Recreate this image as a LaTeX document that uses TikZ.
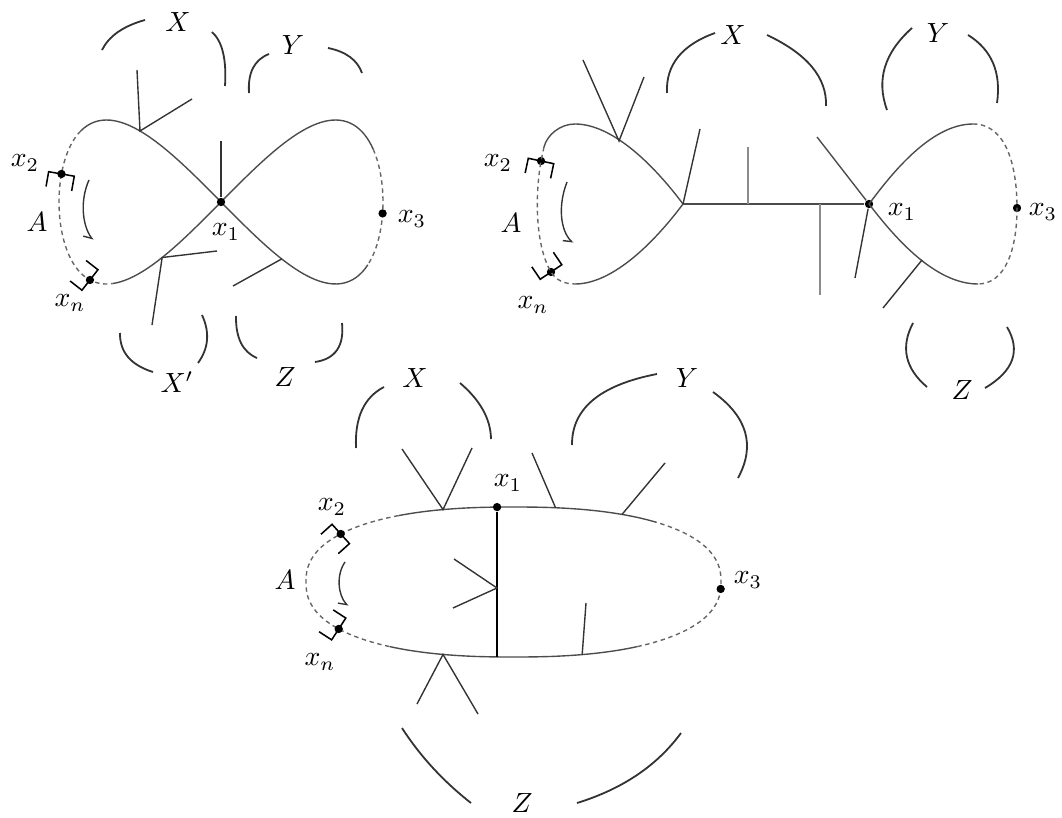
\documentclass[tikz,border=0pt]{standalone}
\usepackage{amsmath}
\usepackage{tikz}
\usetikzlibrary{arrows.meta, calc}

% bracket at an end of the interval A
\newcommand{\cutmark}[2]{%
  \draw[cut line, shift={#1}, rotate=#2] (-13,15) -- (-13,0) -- (13,0) -- (13,15);}
% parenthesis arc round a label: start, bend point, end
\newcommand{\bracearc}[3]{%
  \draw[brace arc] #1 .. controls ($#1!0.667!#2$) and ($#3!0.667!#2$) .. #3;}

\begin{document}
\begin{tikzpicture}[x=0.36pt, y=-0.36pt,
    loop line/.style={black!70, line width=0.5pt},
    loop dash/.style={black!60, line width=0.5pt, dash pattern=on 1.6pt off 1.3pt},
    twig/.style={black!80, line width=0.5pt},
    twig light/.style={black!45, line width=0.65pt},
    brace arc/.style={black!80, line width=0.65pt},
    cut line/.style={black, line width=0.55pt},
    sweep arrow/.style={black!80, line width=0.5pt, -{Straight Barb[length=2.5pt,width=4pt,right]}},
    vtx/.style={circle, fill=black, inner sep=0pt, minimum size=3pt},
    declare function={gx(\t)=221+162*cos(\t); gy(\t)=202+82*sin(2*\t);
      ex(\t)=513.5+207.5*sign(cos(\t))*(abs(cos(\t))+0.00001)^0.85;
      ey(\t)=582-75*sign(sin(\t))*(abs(sin(\t))+0.00001)^0.85;}]
  \useasboundingbox (0,0) rectangle (1062,817);

  % ---- top left: figure eight
  \draw[loop line, domain=25:150, samples=60, variable=\t] plot ({gx(\t)},{gy(\t)});
  \draw[loop dash, domain=150:228, samples=40, variable=\t] plot ({gx(\t)},{gy(\t)});
  \draw[loop line, domain=228:340, samples=60, variable=\t] plot ({gx(\t)},{gy(\t)});
  \draw[loop dash, domain=340:385, samples=30, variable=\t] plot ({gx(\t)},{gy(\t)});
  \node[vtx] (x1a) at (221,202) {};
  \node[vtx] (x2a) at ({gx(170)},{gy(170)}) {};
  \node[vtx] (xna) at ({gx(216)},{gy(216)}) {};
  \node[vtx] (x3a) at ({gx(4)},{gy(4)}) {};
  \cutmark{(x2a)}{-10}
  \cutmark{(xna)}{232}
  \draw[sweep arrow] (89,180) .. controls (80,200) and (82,225) .. (93,240);
  \coordinate (va) at ({gx(120)},{gy(120)});
  \coordinate (ya) at ({gx(248.7)},{gy(248.7)});
  \coordinate (za) at ({gx(68)},{gy(68)});
  \draw[twig] (137,70) -- (va) -- (192,99);
  \draw[twig] (x1a) -- (221,141);
  \draw[twig] (217,251) -- (ya) -- (152,325);
  \draw[twig] (za) -- (233,286);
  \bracearc{(102,50)}{(112.5,29)}{(145,20)}
  \bracearc{(212,32)}{(227.5,46)}{(225,86)}
  \bracearc{(249,93)}{(247,62.5)}{(269,54)}
  \bracearc{(328,48)}{(355,53.5)}{(362,73)}
  \bracearc{(120,333)}{(119.5,361.5)}{(153,372)}
  \bracearc{(202,315)}{(214,341)}{(198,363)}
  \bracearc{(236,316)}{(235.5,349)}{(257,358)}
  \bracearc{(342,323)}{(345.5,357.5)}{(315,362)}
  \node (lXa) at (178,22) {$X$};
  \node (lYa) at (293,45) {$Y$};
  \node (lXpa) at (177,382) {$X'$};
  \node (lZa) at (285,377) {$Z$};
  \node (lx2a) at (25,163) {$x_2$};
  \node (lAa) at (37,222) {$A$};
  \node (lxna) at (70,303) {$x_n$};
  \node (lx1a) at (226,232) {$x_1$};
  \node (lx3a) at (412,219) {$x_3$};

  % ---- top right: two loops joined by an edge
  \node[vtx] (x1b) at (869,204) {};
  \node[vtx] (x2b) at (541,161) {};
  \node[vtx] (xnb) at (551,272) {};
  \node[vtx] (x3b) at (1017,208) {};
  \coordinate (vb) at (683,204);
  \draw[loop line] (vb) .. controls (650,160) and (610,124) .. (575,124)
    .. controls (560,124) and (547,135) .. (544,147);
  \draw[loop dash] (544,147) .. controls (543,152) and (542,156) .. (x2b.center)
    .. controls (535,195) and (535,245) .. (xnb.center)
    .. controls (556,280) and (564,284) .. (575,284);
  \draw[loop line] (575,284) .. controls (610,284) and (650,248) .. (vb);
  \draw[loop line] (vb) -- (x1b);
  \draw[loop line] (x1b.center) .. controls (890,176) and (930,124) .. (973,124);
  \draw[loop dash] (973,124) .. controls (1008,124) and (1017,170) .. (x3b.center)
    .. controls (1017,250) and (1005,284) .. (978,284);
  \draw[loop line] (978,284) .. controls (935,284) and (895,238) .. (x1b.center);
  \cutmark{(x2b)}{-12}
  \cutmark{(xnb)}{214}
  \draw[sweep arrow] (567,182) .. controls (558,205) and (560,230) .. (573,243);
  \coordinate (ub) at (619,141);
  \draw[twig] (583,60) -- (ub) -- (644,77);
  \draw[twig] (vb) -- (700,129);
  \draw[twig light] (748,204) -- (748,147);
  \draw[twig light] (820,204) -- (820,295);
  \draw[twig] (x1b) -- (855,278);
  \draw[loop line] (x1b) -- (817,137);
  \draw[twig] (922,260) -- (883,308);
  \bracearc{(667,93)}{(665,51)}{(715,33)}
  \bracearc{(767,35)}{(827.5,63.5)}{(826,106)}
  \bracearc{(887,110)}{(870.5,65)}{(912,28)}
  \bracearc{(968,35)}{(1003.5,57)}{(997,103)}
  \bracearc{(913,323)}{(894,359)}{(927,387)}
  \bracearc{(1007,327)}{(1028,362.5)}{(985,388)}
  \node (lXb) at (733,35) {$X$};
  \node (lYb) at (938,33) {$Y$};
  \node (lZb) at (962,390) {$Z$};
  \node (lx2b) at (498,163) {$x_2$};
  \node (lAb) at (511,223) {$A$};
  \node (lxnb) at (533,305) {$x_n$};
  \node (lx1b) at (902,212) {$x_1$};
  \node (lx3b) at (1043,212) {$x_3$};

  % ---- bottom: oval with a chord
  \draw[loop line, domain=50:120, samples=40, variable=\t] plot ({ex(\t)},{ey(\t)});
  \draw[loop dash, domain=120:237, samples=60, variable=\t] plot ({ex(\t)},{ey(\t)});
  \draw[loop line, domain=237:303, samples=40, variable=\t] plot ({ex(\t)},{ey(\t)});
  \draw[loop dash, domain=303:410, samples=60, variable=\t] plot ({ex(\t)},{ey(\t)});
  \node[vtx] (x1c) at ({ex(92.9)},{ey(92.9)}) {};
  \node[vtx] (x2c) at ({ex(143.7)},{ey(143.7)}) {};
  \node[vtx] (xnc) at ({ex(215.2)},{ey(215.2)}) {};
  \node[vtx] (x3c) at ({ex(-3.5)},{ey(-3.5)}) {};
  \coordinate (ec) at ({ex(267.1)},{ey(267.1)});
  \draw[black, line width=0.55pt] (x1c) -- (ec);
  \cutmark{(x2c)}{-48}
  \cutmark{(xnc)}{237}
  \draw[sweep arrow] (345,562) .. controls (336,575) and (338,595) .. (348,606);
  \coordinate (mc) at (497,588);
  \coordinate (tc1) at ({ex(106.3)},{ey(106.3)});
  \coordinate (tc2) at ({ex(81.3)},{ey(81.3)});
  \coordinate (tc3) at ({ex(62.2)},{ey(62.2)});
  \coordinate (bc1) at ({ex(253.7)},{ey(253.7)});
  \coordinate (bc2) at ({ex(285.8)},{ey(285.8)});
  \draw[twig] (454,559) -- (mc) -- (453,608);
  \draw[twig] (402,449) -- (tc1) -- (472,448);
  \draw[twig] (tc2) -- (532,453);
  \draw[twig] (tc3) -- (665,463);
  \draw[twig] (417,704) -- (bc1) -- (478,714);
  \draw[twig] (bc2) -- (586,603);
  \bracearc{(356,448)}{(354,402.5)}{(384,387)}
  \bracearc{(460,383)}{(490.5,409)}{(491,439)}
  \bracearc{(572,445)}{(571.5,390.5)}{(657,374)}
  \bracearc{(713,392)}{(764.5,429)}{(738,478)}
  \bracearc{(402,728)}{(429.5,770.5)}{(471,803)}
  \bracearc{(577,803)}{(645,782)}{(681,733)}
  \node (lXc) at (415,378) {$X$};
  \node (lYc) at (687,378) {$Y$};
  \node (lZc) at (522,803) {$Z$};
  \node (lx2c) at (332,507) {$x_2$};
  \node (lx1c) at (508,483) {$x_1$};
  \node (lAc) at (285,580) {$A$};
  \node (lxnc) at (320,662) {$x_n$};
  \node (lx3c) at (748,580) {$x_3$};
\end{tikzpicture}
\end{document}
